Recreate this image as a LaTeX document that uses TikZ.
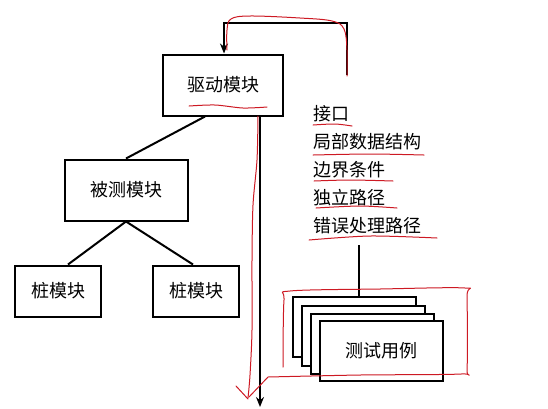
\documentclass[tikz,border=0pt]{standalone}
\usepackage{fontspec}
\newfontfamily\cjk{Noto Sans CJK SC}
\usetikzlibrary{arrows.meta}
\definecolor{pen}{RGB}{205,25,35}

\begin{document}
\begin{tikzpicture}[>={Stealth[length=10pt, width=8pt]}, x=1pt, y=-1pt,
    module/.style={draw, line width=2pt, fill=white, inner sep=0pt,
        font=\cjk\fontsize{18}{21}\selectfont},
    card/.style={module, minimum width=123pt, minimum height=60pt},
    item/.style={anchor=west, inner sep=0pt, font=\cjk\fontsize{18}{21}\selectfont},
    wire/.style={line width=2pt},
    ink/.style={pen, line width=1pt, line cap=round, line join=round}]

    \useasboundingbox (0,0) rectangle (548,408);

    % --- Modules ---
    \node[module, minimum width=120pt, minimum height=61pt] (driver) at (223,85) {驱动模块};
    \node[module, minimum width=123pt, minimum height=61pt] (unit) at (126,190) {被测模块};
    \node[module, minimum width=86pt, minimum height=51pt] (stubL) at (58,291) {桩模块};
    \node[module, minimum width=86pt, minimum height=51pt] (stubR) at (196,291) {桩模块};

    % --- Call tree ---
    \draw[wire] (unit.north) -- ([xshift=-18pt]driver.south);
    \draw[wire] (unit.south) -- ([xshift=10pt]stubL.north);
    \draw[wire] (unit.south) -- ([xshift=-3pt]stubR.north);

    % --- Test items ---
    \node[item] (iface) at (313,114) {接口};
    \node[item] (local) at (313,142) {局部数据结构};
    \node[item] (bound) at (313,170) {边界条件};
    \node[item] (path)  at (313,198) {独立路径};
    \node[item] (error) at (313,226) {错误处理路径};

    % --- Test cases (stacked) ---
    \node[card] (case1) at (354.5,327) {};
    \node[card] (case2) at (363.5,336) {};
    \node[card] (case3) at (372.5,343.5) {};
    \node[card] (case4) at (381,350.5) {测试用例};

    \coordinate (tap) at (359,245);
    \draw[wire] (tap) -- (tap |- case1.north);

    % --- Feedback loop into the driver ---
    \coordinate (loop) at (347,75);
    \coordinate (top) at (224,23);
    \draw[wire, ->] (loop) |- (top) -- (top |- driver.north);

    % --- Output of the driver ---
    \coordinate (exit) at (260,407);
    \draw[wire, ->] (exit |- driver.south) -- (exit);

    % --- Red pen marks ---
    \draw[ink] plot[smooth, tension=0.6] coordinates
        {(227,50) (227,30) (231,19) (250,16) (300,18) (332,21) (344,29) (347,50) (347,76)};
    \draw[ink] plot[smooth] coordinates {(189,106) (215,105) (243,108) (267,107)};
    \draw[ink] plot[smooth] coordinates
        {(258,116) (257,160) (253,205) (252,260) (252,330) (250,375) (248,398)};
    \draw[ink] (236,386) -- (248,399);
    \draw[ink] plot[smooth, tension=0.5] coordinates
        {(283,367) (284,300) (290,291) (380,289) (465,288) (467,296) (467,369) (461,374) (360,375) (268,377)}
        -- (249,397);

    % --- Underlines ---
    \draw[ink] plot[smooth] coordinates {(313,125) (335,124) (352,126)};
    \draw[ink] plot[smooth] coordinates {(313,155) (370,154) (424,155)};
    \draw[ink] plot[smooth] coordinates {(314,181) (350,180) (393,181)};
    \draw[ink] plot[smooth] coordinates {(316,208) (360,206) (397,208)};
    \draw[ink] plot[smooth] coordinates {(309,240) (370,236) (437,238)};

\end{tikzpicture}
\end{document}
